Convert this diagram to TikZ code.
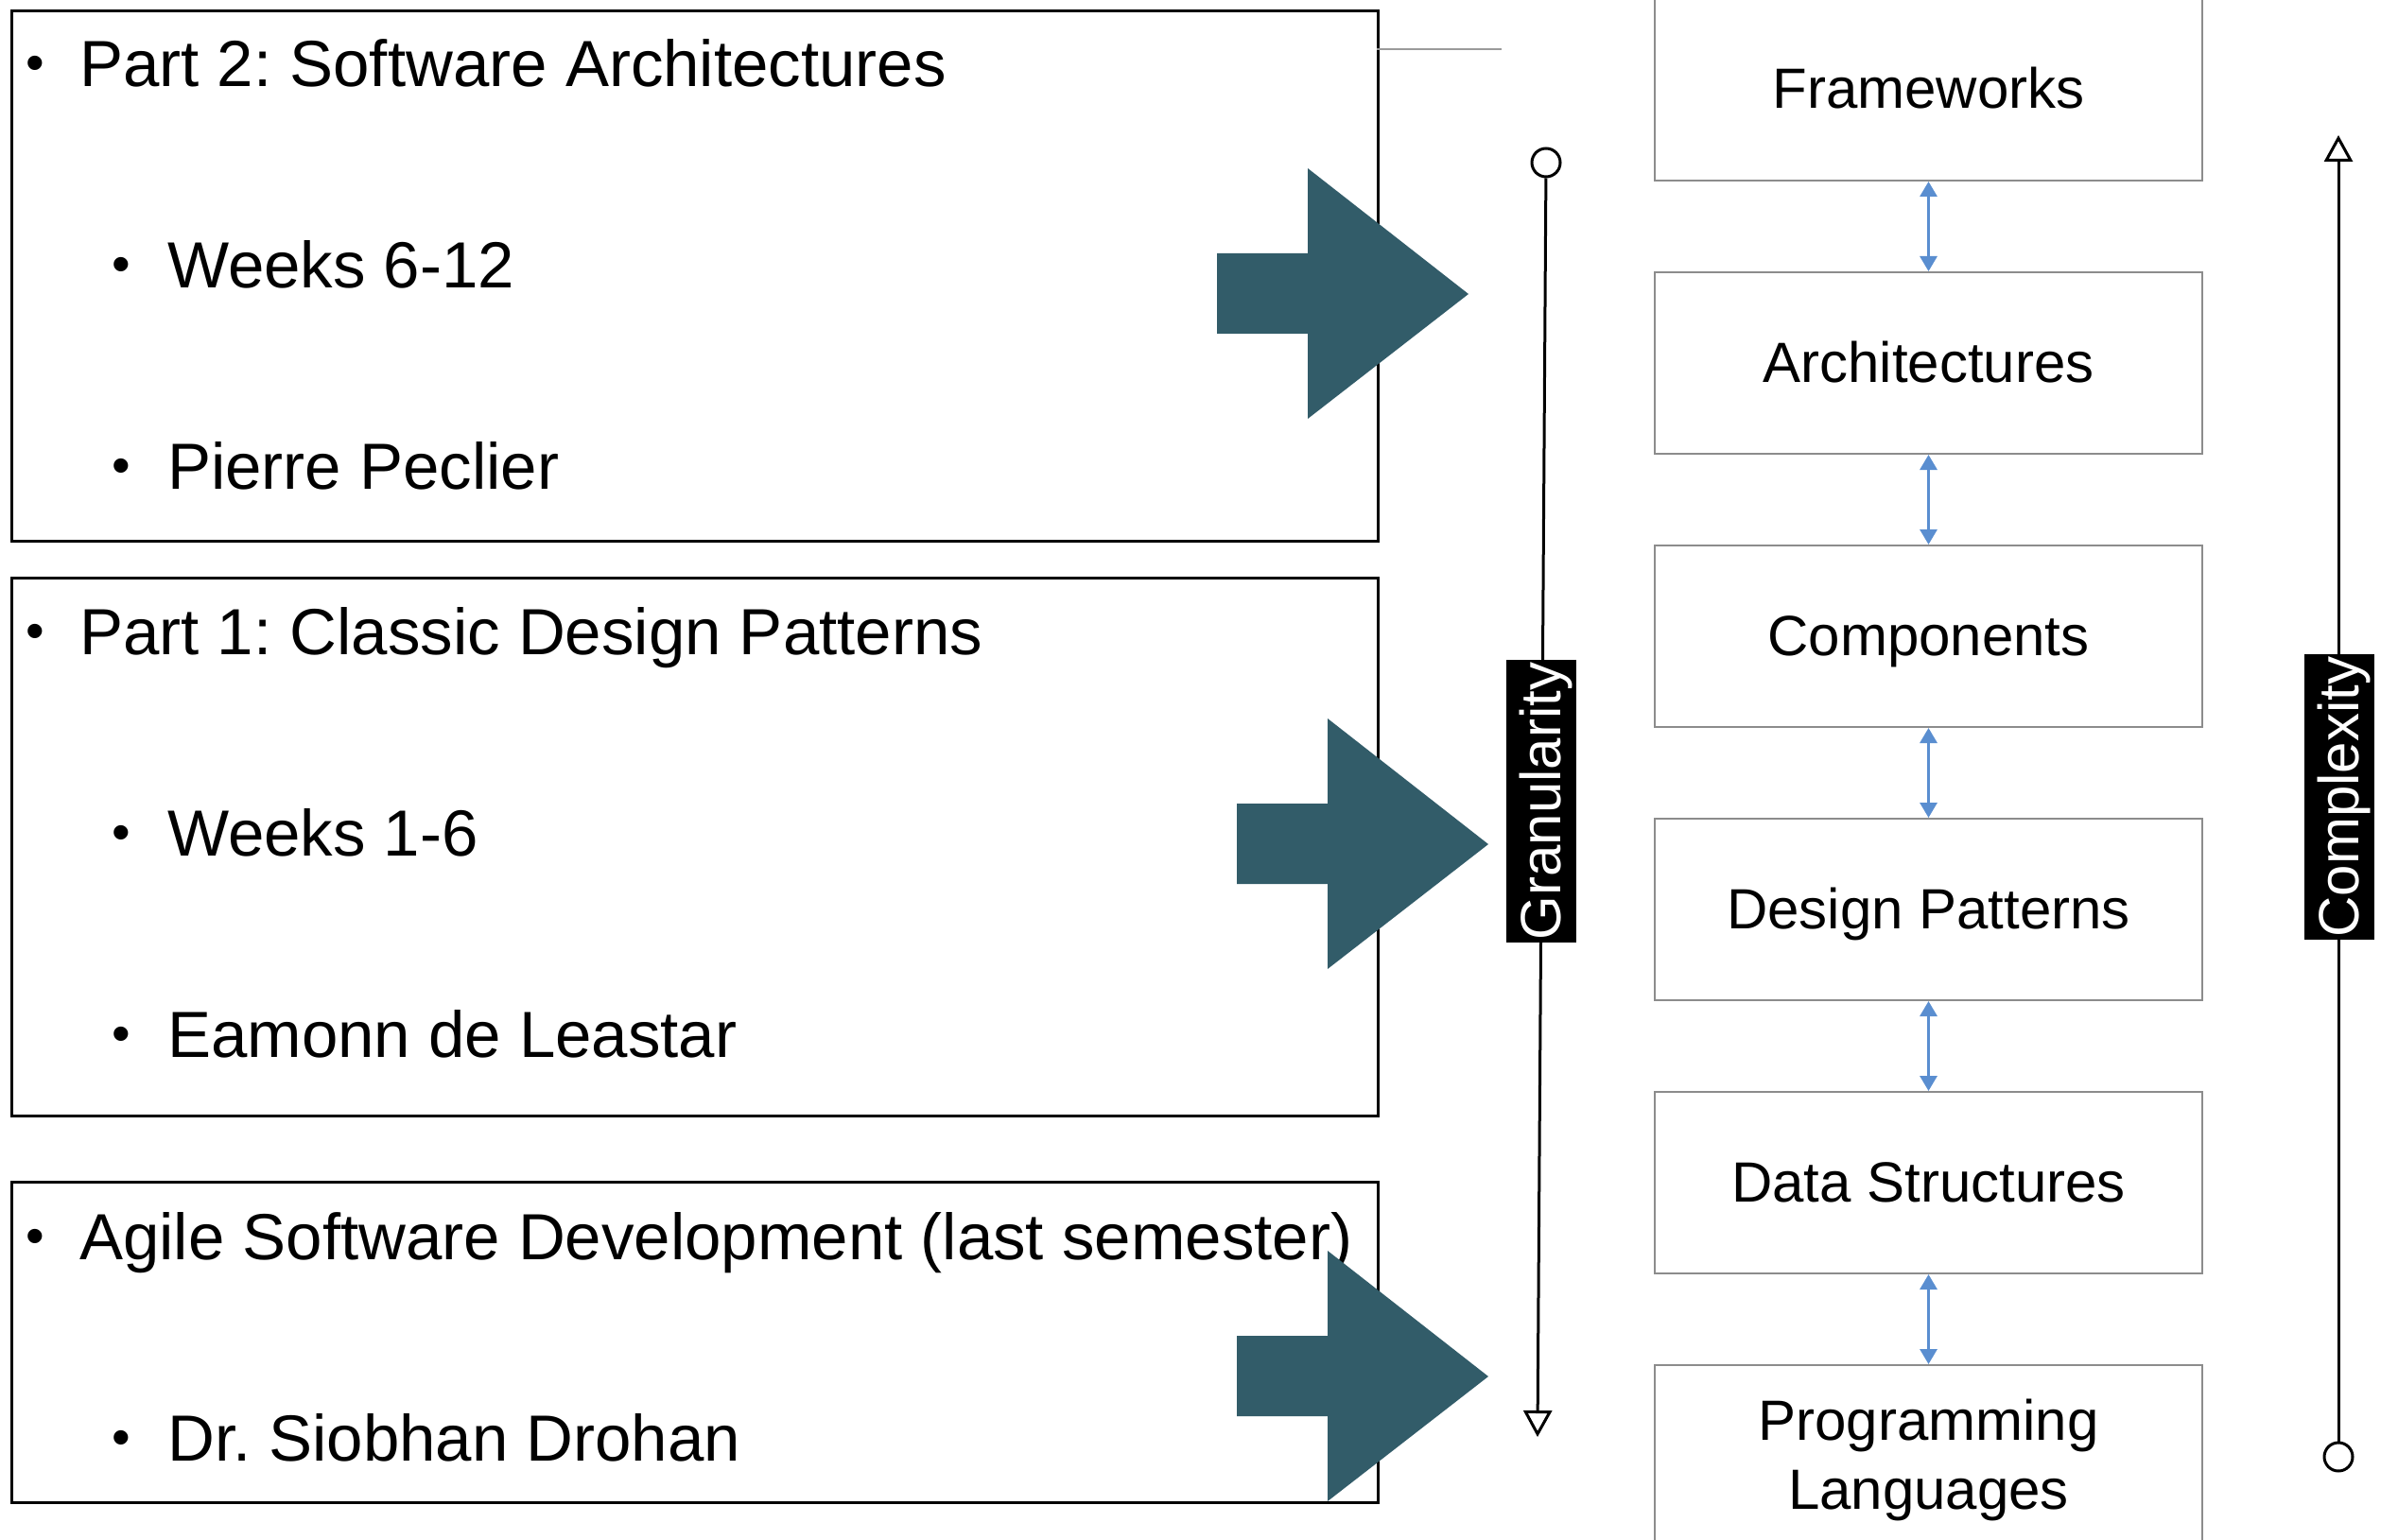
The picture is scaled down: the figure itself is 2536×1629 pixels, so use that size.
\documentclass[tikz,border=0pt]{standalone}
\usepackage{fontspec}
\setmainfont{Liberation Sans}
\usetikzlibrary{arrows.meta}
\definecolor{tealarrow}{HTML}{325C69}
\definecolor{arrblue}{HTML}{5A8ED0}
\definecolor{boxgray}{HTML}{8C8C8C}
\definecolor{linegray}{HTML}{9A9A9A}
\frenchspacing
\begin{document}
\begin{tikzpicture}[x=1pt,y=-1pt,
  leftbox/.style={draw=black, line width=3pt, minimum width=1445pt, inner sep=0pt, anchor=north west},
  bigtxt/.style={font=\fontsize{69}{83}\selectfont, inner sep=0pt, anchor=base west},
  bul/.style={font=\fontsize{56}{67}\selectfont, inner sep=0pt, anchor=base, yshift=6pt},
  level/.style={draw=boxgray, line width=2pt, minimum width=579pt, minimum height=192pt, font=\fontsize{60}{73}\selectfont, text height=40pt, text depth=0pt, inner sep=0pt},
  link/.style={arrblue, line width=3pt, {Triangle[length=16pt,width=18pt]}-{Triangle[length=16pt,width=18pt]}},
  axisline/.style={black, line width=3pt, -{Triangle[open,length=28pt,width=30pt]}},
  axlabel/.style={fill=black, text=white, rotate=90, font=\fontsize{60}{73}\selectfont, text height=40pt, text depth=0pt, inner sep=0pt, minimum height=74pt},
  endcirc/.style={circle, draw=black, line width=3pt, minimum size=30pt, inner sep=0pt, fill=white},
  bigarrow/.style={fill=tealarrow},
]
\useasboundingbox (0,0) rectangle (2536,1629);

% left boxes
\node[leftbox, minimum height=561pt] (box1) at (11,10) {};
\node[leftbox, minimum height=569pt] (box2) at (11,610) {};
\node[leftbox, minimum height=339pt] (box3) at (11,1249) {};

% box 1 text
\node[bul] (bu1a) at (37,92) {•};
\node[bigtxt] (t1a) at (84,92) {Part 2: Software Architectures};
\node[bul] (bu1b) at (128,305) {•};
\node[bigtxt] (t1b) at (177,305) {Weeks 6-12};
\node[bul] (bu1c) at (128,517) {•};
\node[bigtxt] (t1c) at (177,517) {Pierre Peclier};

% box 2 text
\node[bul] (bu2a) at (37,692) {•};
\node[bigtxt] (t2a) at (84,692) {Part 1: Classic Design Patterns};
\node[bul] (bu2b) at (128,905) {•};
\node[bigtxt] (t2b) at (177,905) {Weeks 1-6};
\node[bul] (bu2c) at (128,1118) {•};
\node[bigtxt] (t2c) at (177,1118) {Eamonn de Leastar};

% box 3 text
\node[bul] (bu3a) at (37,1332) {•};
\node[bigtxt] (t3a) at (84,1332) {Agile Software Development (last semester)};
\node[bul] (bu3b) at (128,1545) {•};
\node[bigtxt] (t3b) at (177,1545) {Dr. Siobhan Drohan};

% gray line at top
\coordinate (gl1) at (1456,52);
\coordinate (gl2) at (1588,52);
\draw[linegray, line width=2pt] (gl1) -- (gl2);

% big teal arrows
\foreach \px/\py in {1287/311, 1308/893, 1308/1456} {
  \fill[bigarrow, shift={(\px,\py)}] (0,-43) -- (96,-43) -- (96,-133) -- (266,0) -- (96,132) -- (96,42) -- (0,42) -- cycle;
}

% right column
\node[level] (fw) at (2039.5,95) {Frameworks};
\node[level] (arch) at (2039.5,384) {Architectures};
\node[level] (comp) at (2039.5,673) {Components};
\node[level] (dp) at (2039.5,962) {Design Patterns};
\node[level] (ds) at (2039.5,1251) {Data Structures};
\node[level, text depth=73pt] (pl) at (2039.5,1540) {\begin{tabular}[t]{@{}c@{}}Programming\\Languages\end{tabular}};

\draw[link] (fw.south) -- (arch.north);
\draw[link] (arch.south) -- (comp.north);
\draw[link] (comp.south) -- (dp.north);
\draw[link] (dp.south) -- (ds.north);
\draw[link] (ds.south) -- (pl.north);

% granularity axis
\node[endcirc] (gcirc) at (1635,172) {};
\coordinate (gend) at (1626,1520);
\draw[axisline] (gcirc) -- (gend);
\node[axlabel, minimum width=299pt] (glab) at (1630,847.5) {Granularity};

% complexity axis
\node[endcirc] (ccirc) at (2473,1541) {};
\coordinate (cend) at (2473,143);
\draw[axisline] (ccirc) -- (cend);
\node[axlabel, minimum width=302pt] (clab) at (2474,843) {Complexity};
\end{tikzpicture}
\end{document}
